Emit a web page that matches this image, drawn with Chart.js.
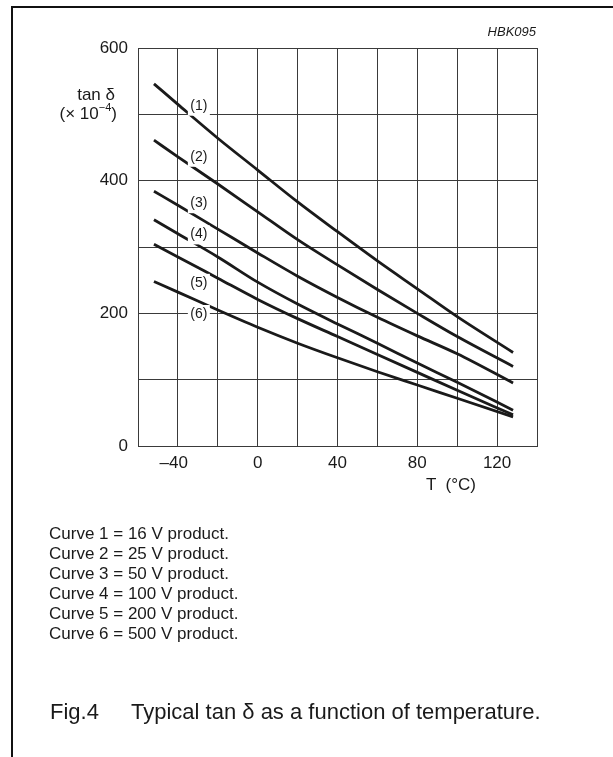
<!DOCTYPE html>
<html>
<head>
<meta charset="utf-8">
<script src="https://cdn.jsdelivr.net/npm/chart.js@4"></script>
<style>
  html, body { margin: 0; padding: 0; background: #fff; }
  body { width: 613px; height: 757px; position: relative; overflow: hidden;
         font-family: 'Liberation Sans', Arial, sans-serif; color: #1a1a1a; }
  #chart { position: absolute; left: 0; top: 0; }
  .frame { position: absolute; left: 11px; top: 6px; width: 700px; height: 800px;
           border-top: 2px solid #111; border-left: 2px solid #111; }
  .txt { position: absolute; white-space: pre; line-height: 20px; }
  sup { font-size: 11px; line-height: 0; position: relative; top: -1px; }
</style>
</head>
<body>
<div class="frame"></div>
<canvas id="chart" width="613" height="757"></canvas>

<div class="txt" style="right:77px; top:22px; font-size:13px; font-style:italic;">HBK095</div>
<div class="txt" style="right:498px; top:85px; font-size:17px;">tan δ</div>
<div class="txt" style="right:496px; top:104px; font-size:17px;">(× 10<sup>−4</sup>)</div>
<div class="txt" style="left:426px; top:475px; font-size:17px;">T  (°C)</div>
<div id="notes"></div>
<div class="txt" style="left:50px; top:700px; font-size:22px; line-height:24px;">Fig.4</div>
<div class="txt" style="left:131px; top:700px; font-size:22px; line-height:24px;">Typical tan δ as a function of temperature.</div>

<script>
// ─── Datos ─────────────────────────────────────────────
const temps  = [-52, -40, -20, 0, 20, 40, 60, 80, 100, 128];
const curve1 = [546, 515, 464, 416, 368, 323, 279, 237, 195, 141];
const curve2 = [461, 436, 395, 353, 311, 273, 236, 200, 165, 120];
const curve3 = [384, 363, 327, 291, 256, 224, 194, 166, 139, 95];
const curve4 = [341, 320, 285, 247, 214, 184, 155, 125, 96, 54];
const curve5 = [304, 285, 253, 221, 192, 165, 138, 111, 84, 47];
const curve6 = [248, 232, 205, 179, 155, 133, 112, 92, 72, 44];

const curveTags   = ['(1)', '(2)', '(3)', '(4)', '(5)', '(6)'];
const tagT        = [-29.5, -29.5, -29.5, -29.5, -29.5, -29.5];
const tagValue    = [513, 436, 366, 319, 246, 199];
const notes = [
  'Curve 1 = 16 V product.',
  'Curve 2 = 25 V product.',
  'Curve 3 = 50 V product.',
  'Curve 4 = 100 V product.',
  'Curve 5 = 200 V product.',
  'Curve 6 = 500 V product.',
];

const xTickLabels = [-40, 0, 40, 80, 120];
const yTickLabels = [0, 200, 400, 600];

// ─── Notas bajo el gráfico ─────────────────────────────
const notesBox = document.getElementById('notes');
notes.forEach((n, i) => {
  const d = document.createElement('div');
  d.className = 'txt';
  d.style.cssText = `left:49px; top:${524 + i * 20}px; font-size:17px;`;
  d.textContent = n;
  notesBox.appendChild(d);
});

// ─── Etiquetas (1)…(6) sobre fondo blanco ──────────────
const curveTagPlugin = {
  id: 'curveTags',
  afterDatasetsDraw(chart) {
    const { ctx, scales: { x, y } } = chart;
    ctx.save();
    ctx.font = "14px 'Liberation Sans', Arial, sans-serif";
    ctx.textAlign = 'center';
    ctx.textBaseline = 'middle';
    curveTags.forEach((t, i) => {
      const px = x.getPixelForValue(tagT[i]);
      const py = y.getPixelForValue(tagValue[i]);
      ctx.fillStyle = '#fff';
      ctx.fillRect(px - 11, py - 9, 22, 19);
      ctx.fillStyle = '#1a1a1a';
      ctx.fillText(t, px, py);
    });
    ctx.restore();
  },
};

const series = [curve1, curve2, curve3, curve4, curve5, curve6];
const font = { family: "'Liberation Sans', Arial, sans-serif", size: 17 };
const gridColor = '#3a3a3a';

new Chart(document.getElementById('chart'), {
  type: 'line',
  data: {
    datasets: series.map((s, i) => ({
      label: curveTags[i],
      data: temps.map((t, k) => ({ x: t, y: s[k] })),
      borderColor: '#1a1a1a',
      borderWidth: 2.8,
      pointRadius: 0,
      fill: false,
      cubicInterpolationMode: 'monotone',
    })),
  },
  options: {
    responsive: false,
    devicePixelRatio: 1,
    animation: false,
    layout: { padding: { left: 0, right: 76, top: 48, bottom: 0 } },
    plugins: { legend: { display: false }, tooltip: { enabled: false } },
    scales: {
      x: {
        type: 'linear', min: -60, max: 140,
        afterFit: (s) => { s.height = 311; },
        grid: { color: gridColor, lineWidth: 1, drawTicks: false },
        border: { color: gridColor, width: 1 },
        ticks: {
          stepSize: 20, autoSkip: false, maxRotation: 0, padding: 7,
          color: '#1a1a1a', font,
          // the dash hangs left of the digits in the original
          callback: (v) => xTickLabels.includes(v) ? (v < 0 ? '–' + Math.abs(v) + '\u2002' : String(v)) : '',
        },
      },
      y: {
        min: 0, max: 600,
        afterFit: (s) => { s.width = 138; },
        grid: { color: gridColor, lineWidth: 1, drawTicks: false },
        border: { color: gridColor, width: 1 },
        ticks: {
          stepSize: 100, autoSkip: false, padding: 10,
          color: '#1a1a1a', font,
          callback: (v) => yTickLabels.includes(v) ? String(v) : '',
        },
      },
    },
  },
  plugins: [curveTagPlugin],
});
</script>
</body>
</html>
